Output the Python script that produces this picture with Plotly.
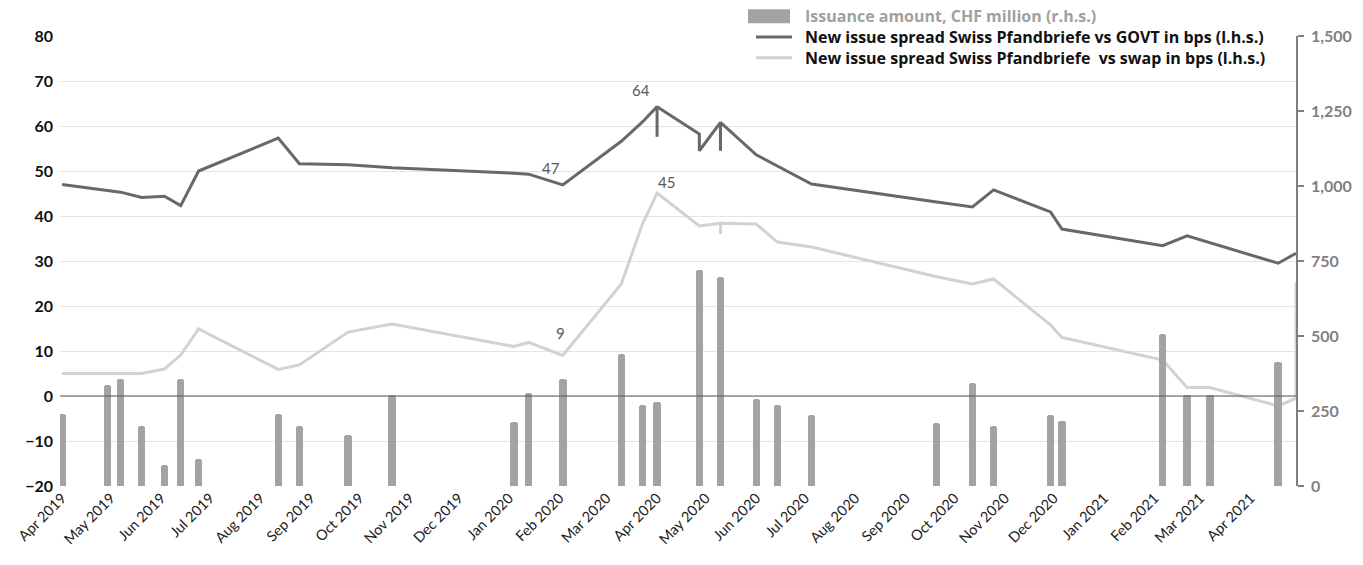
import plotly.graph_objects as go

# ---------------- data ----------------
issue_dates = [
    "2019-04-01", "2019-04-29", "2019-05-07", "2019-05-20", "2019-06-03", "2019-06-13",
    "2019-06-24", "2019-08-12", "2019-08-25", "2019-09-24", "2019-10-21", "2020-01-04",
    "2020-01-13", "2020-02-03", "2020-03-10", "2020-03-23", "2020-04-01", "2020-04-27",
    "2020-05-10", "2020-06-01", "2020-06-14", "2020-07-05", "2020-09-20", "2020-10-12",
    "2020-10-25", "2020-11-29", "2020-12-06", "2021-02-06", "2021-02-21", "2021-03-07",
    "2021-04-18",
]
issuance_chf_mn = [
    240, 337, 357, 201, 70, 357,
    90, 240, 201, 170, 303, 213,
    311, 356, 440, 270, 281, 720,
    698, 289, 270, 237, 209, 342,
    200, 237, 218, 506, 303, 303,
    412,
]

govt_dates = [
    "2019-04-01", "2019-04-29", "2019-05-07", "2019-05-20", "2019-06-03", "2019-06-13",
    "2019-06-24", "2019-08-12", "2019-08-25", "2019-09-24", "2019-10-21", "2020-01-04",
    "2020-01-13", "2020-02-03", "2020-03-10", "2020-03-23", "2020-04-01", "2020-04-01",
    "2020-04-01", "2020-04-27", "2020-04-27", "2020-05-10", "2020-05-10", "2020-05-10",
    "2020-06-01", "2020-06-14", "2020-07-05", "2020-09-20", "2020-10-12", "2020-10-25",
    "2020-11-29", "2020-12-06", "2021-02-06", "2021-02-21", "2021-04-18", "2021-04-29",
]
spread_vs_govt = [
    47.0, 45.8, 45.3, 44.1, 44.4, 42.3,
    50.0, 57.3, 51.6, 51.4, 50.7, 49.5,
    49.3, 46.9, 56.6, 60.9, 64.3, 57.6,
    64.3, 58.2, 54.5, 60.8, 54.5, 60.8,
    53.6, 51.1, 47.1, 43.1, 42.0, 45.8,
    40.9, 37.1, 33.4, 35.6, 29.5, 31.7,
]

swap_dates = [
    "2019-04-01", "2019-04-29", "2019-05-07", "2019-05-20", "2019-06-03", "2019-06-13",
    "2019-06-24", "2019-08-12", "2019-08-25", "2019-09-24", "2019-10-21", "2020-01-04",
    "2020-01-13", "2020-02-03", "2020-03-10", "2020-03-23", "2020-04-01", "2020-04-27",
    "2020-05-10", "2020-05-10", "2020-05-10", "2020-06-01", "2020-06-14", "2020-07-05",
    "2020-09-20", "2020-10-12", "2020-10-25", "2020-11-29", "2020-12-06", "2021-02-06",
    "2021-02-21", "2021-03-07", "2021-04-18", "2021-04-29", "2021-04-29",
]
spread_vs_swap = [
    5.0, 5.0, 5.0, 5.0, 6.0, 9.1,
    14.9, 5.9, 6.9, 14.2, 16.0, 11.0,
    11.9, 9.0, 24.9, 38.2, 45.1, 37.8,
    38.4, 36.0, 38.4, 38.2, 34.2, 33.1,
    26.5, 24.9, 26.0, 15.8, 13.0, 8.0,
    1.9, 1.9, -2.2, -0.5, 25.3,
]

legend_names = [
    "Issuance amount, CHF million (r.h.s.)",
    "New issue spread Swiss Pfandbriefe vs GOVT in bps (l.h.s.)",
    "New issue spread Swiss Pfandbriefe  vs swap in bps (l.h.s.)",
]

# labelled points (index in series)
govt_label_idx = [13, 16]
swap_label_idx = [13, 16]

# ---------------- styling ----------------
W, H = 1363, 565
L, R, T, B = 60, 67, 36, 79
PW, PH = W - L - R, H - T - B

C_BAR = "#a3a3a3"
C_GOVT = "#686868"
C_SWAP = "#d2d2d2"
FONT = "Lato"
LEG_FONT = "Open Sans"
LEG_SIZE = 16


def px_x(px):
    return (px - L) / PW


def px_y(py):
    return (H - B - py) / PH


fig = go.Figure()

fig.add_trace(go.Scatter(
    x=govt_dates, y=spread_vs_govt, mode="lines",
    line=dict(color=C_GOVT, width=3), name=legend_names[1], yaxis="y",
))
fig.add_trace(go.Scatter(
    x=swap_dates, y=spread_vs_swap, mode="lines",
    line=dict(color=C_SWAP, width=3), name=legend_names[2], yaxis="y",
))
fig.add_trace(go.Bar(
    x=issue_dates, y=issuance_chf_mn, yaxis="y2", name=legend_names[0],
    marker=dict(color=C_BAR, cornerradius=3, line=dict(width=0)),
    width=4.6 * 86400000,
))

annotations = []
# data labels
for i in govt_label_idx:
    dx, dy = {13: (-12, 17), 16: (-16, 17)}[i]
    annotations.append(dict(
        x=govt_dates[i], y=spread_vs_govt[i], xref="x", yref="y",
        text=f"{spread_vs_govt[i]:.0f}", showarrow=False,
        xshift=dx, yshift=dy, font=dict(family=FONT, size=15, color="#595959"),
    ))
for i in swap_label_idx:
    dx, dy = {13: (-2, 23), 16: (9, 11)}[i]
    annotations.append(dict(
        x=swap_dates[i], y=spread_vs_swap[i], xref="x", yref="y",
        text=f"{spread_vs_swap[i]:.0f}", showarrow=False,
        xshift=dx, yshift=dy, font=dict(family=FONT, size=15, color="#595959"),
    ))

# manual legend
shapes = []
line_h = LEG_SIZE * 1.3
leg_rows_y = [37 - line_h, 37, 37 + line_h]
sw_x0, sw_x1, txt_x = 748, 790, 803
shapes.append(dict(type="rect", xref="paper", yref="paper",
                   x0=px_x(740), x1=px_x(1292), y0=px_y(69), y1=px_y(5),
                   fillcolor="white", line=dict(width=0), layer="above"))
shapes.append(dict(type="rect", xref="paper", yref="paper",
                   x0=px_x(sw_x0), x1=px_x(sw_x1),
                   y0=px_y(leg_rows_y[0] + 7), y1=px_y(leg_rows_y[0] - 7),
                   fillcolor=C_BAR, line=dict(width=0), layer="above"))
shapes.append(dict(type="line", xref="paper", yref="paper",
                   x0=px_x(sw_x0 + 8), x1=px_x(sw_x1 + 2),
                   y0=px_y(leg_rows_y[1]), y1=px_y(leg_rows_y[1]),
                   line=dict(color=C_GOVT, width=3), layer="above"))
shapes.append(dict(type="line", xref="paper", yref="paper",
                   x0=px_x(sw_x0 + 8), x1=px_x(sw_x1 + 2),
                   y0=px_y(leg_rows_y[2]), y1=px_y(leg_rows_y[2]),
                   line=dict(color=C_SWAP, width=3), layer="above"))
leg_colors = ["#a0a0a0", "#111111", "#111111"]
leg_text = "<br>".join(
    f"<span style='color:{c}'><b>{n}</b></span>" for n, c in zip(legend_names, leg_colors)
)
annotations.append(dict(
    x=px_x(txt_x), y=px_y(leg_rows_y[1]), xref="paper", yref="paper",
    xanchor="left", yanchor="middle", align="left", showarrow=False,
    text=leg_text, font=dict(family=LEG_FONT, size=LEG_SIZE, color="#111111"),
))

# zero line on top of bars
shapes.append(dict(type="line", xref="paper", yref="y", x0=0, x1=1, y0=0, y1=0,
                   line=dict(color="#595959", width=1), layer="above"))

fig.update_layout(
    width=W, height=H,
    margin=dict(l=L, r=R, t=T, b=B, pad=0),
    paper_bgcolor="white", plot_bgcolor="white",
    showlegend=False,
    bargap=0,
    font=dict(family=FONT, size=13, color="#222222"),
    xaxis=dict(
        type="date",
        range=["2019-03-30T18:00", "2021-04-29T00:00"],
        tick0="2019-04-01", dtick="M1", tickformat="%b %Y", tickangle=-45,
        showgrid=False, zeroline=False, showline=False, ticks="",
        tickfont=dict(family=FONT, size=14.5, color="#222222"),
    ),
    yaxis=dict(
        range=[-20, 80], dtick=10, tick0=0,
        showgrid=True, gridcolor="#e4e4e4", gridwidth=1,
        zeroline=False, showline=False, ticks="",
        ticklabelstandoff=6,
        tickfont=dict(family=FONT, size=16, color="#111111", weight="bold"),
    ),
    yaxis2=dict(
        range=[0, 1500], tickvals=[0, 250, 500, 750, 1000, 1250, 1500],
        tickformat=",", overlaying="y", side="right",
        showgrid=False, zeroline=False,
        showline=True, linecolor="#7f7f7f", linewidth=1.5,
        ticks="outside", ticklen=6, tickcolor="#7f7f7f", tickwidth=1.5,
        ticklabelstandoff=4,
        tickfont=dict(family=FONT, size=16, color="#7f7f7f", weight="bold"),
    ),
    annotations=annotations,
    shapes=shapes,
)

fig.write_html("out.html", config={"displayModeBar": False},
               post_script="document.body.style.margin='0';")
